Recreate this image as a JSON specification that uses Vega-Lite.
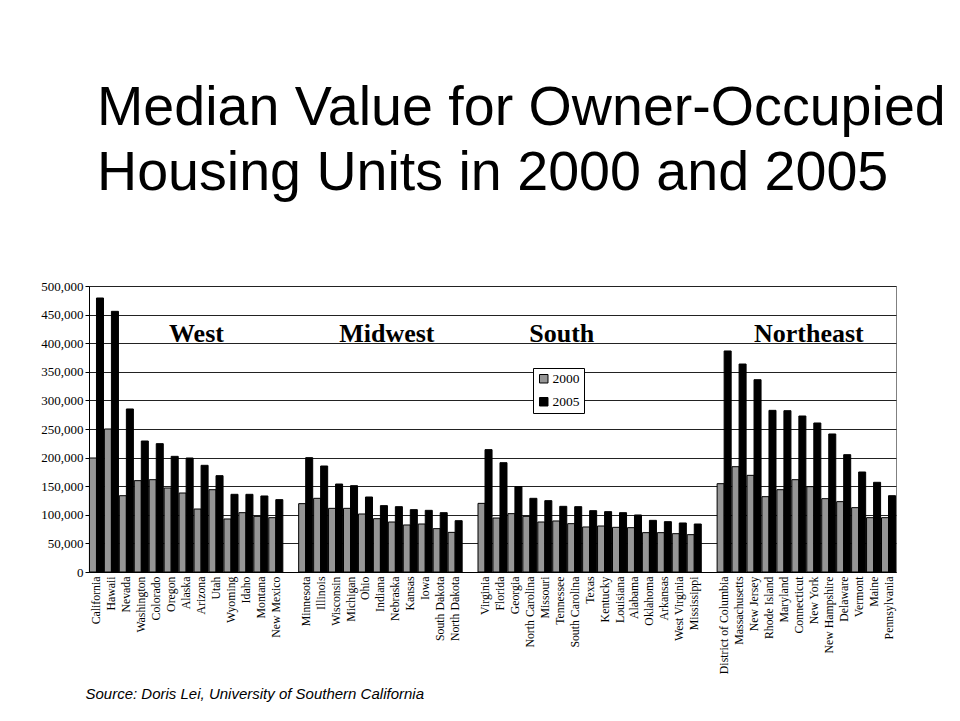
{
  "$schema": "https://vega.github.io/schema/vega-lite/v6.json",
  "width": 807,
  "height": 286,
  "autosize": "none",
  "padding": {"left": 89, "top": 286, "right": 64, "bottom": 149},
  "background": "white",
  "title": {
    "text": ["Median Value for Owner-Occupied", "Housing Units in 2000 and 2005"],
    "anchor": "start",
    "frame": "group",
    "dx": 8,
    "offset": 22,
    "font": "Liberation Sans",
    "fontSize": 55.6,
    "fontWeight": "normal",
    "lineHeight": 65,
    "color": "black",
    "baseline": "bottom"
  },
  "config": {
    "view": {"stroke": "#808080", "strokeWidth": 1},
    "axis": {"labelColor": "black", "domainColor": "black", "tickColor": "black"}
  },
  "data": {"values": [
    {"state": "California", "year": "2000", "value": 199300},
    {"state": "California", "year": "2005", "value": 479000},
    {"state": "Hawaii", "year": "2000", "value": 250000},
    {"state": "Hawaii", "year": "2005", "value": 455700},
    {"state": "Nevada", "year": "2000", "value": 133400},
    {"state": "Nevada", "year": "2005", "value": 285000},
    {"state": "Washington", "year": "2000", "value": 159700},
    {"state": "Washington", "year": "2005", "value": 229000},
    {"state": "Colorado", "year": "2000", "value": 161400},
    {"state": "Colorado", "year": "2005", "value": 224400},
    {"state": "Oregon", "year": "2000", "value": 146900},
    {"state": "Oregon", "year": "2005", "value": 202200},
    {"state": "Alaska", "year": "2000", "value": 138100},
    {"state": "Alaska", "year": "2005", "value": 199300},
    {"state": "Arizona", "year": "2000", "value": 110100},
    {"state": "Arizona", "year": "2005", "value": 186500},
    {"state": "Utah", "year": "2000", "value": 143900},
    {"state": "Utah", "year": "2005", "value": 168400},
    {"state": "Wyoming", "year": "2000", "value": 92700},
    {"state": "Wyoming", "year": "2005", "value": 135800},
    {"state": "Idaho", "year": "2000", "value": 103700},
    {"state": "Idaho", "year": "2005", "value": 135800},
    {"state": "Montana", "year": "2000", "value": 97300},
    {"state": "Montana", "year": "2005", "value": 132900},
    {"state": "New Mexico", "year": "2000", "value": 95000},
    {"state": "New Mexico", "year": "2005", "value": 126500},
    {"state": "Minnesota", "year": "2000", "value": 119500},
    {"state": "Minnesota", "year": "2005", "value": 199900},
    {"state": "Illinois", "year": "2000", "value": 128800},
    {"state": "Illinois", "year": "2005", "value": 185300},
    {"state": "Wisconsin", "year": "2000", "value": 111300},
    {"state": "Wisconsin", "year": "2005", "value": 153800},
    {"state": "Michigan", "year": "2000", "value": 111300},
    {"state": "Michigan", "year": "2005", "value": 150900},
    {"state": "Ohio", "year": "2000", "value": 101400},
    {"state": "Ohio", "year": "2005", "value": 131100},
    {"state": "Indiana", "year": "2000", "value": 93200},
    {"state": "Indiana", "year": "2005", "value": 116000},
    {"state": "Nebraska", "year": "2000", "value": 87400},
    {"state": "Nebraska", "year": "2005", "value": 114200},
    {"state": "Kansas", "year": "2000", "value": 82200},
    {"state": "Kansas", "year": "2005", "value": 109000},
    {"state": "Iowa", "year": "2000", "value": 83900},
    {"state": "Iowa", "year": "2005", "value": 107800},
    {"state": "South Dakota", "year": "2000", "value": 75800},
    {"state": "South Dakota", "year": "2005", "value": 103700},
    {"state": "North Dakota", "year": "2000", "value": 69300},
    {"state": "North Dakota", "year": "2005", "value": 89700},
    {"state": "Virginia", "year": "2000", "value": 120000},
    {"state": "Virginia", "year": "2005", "value": 213900},
    {"state": "Florida", "year": "2000", "value": 94400},
    {"state": "Florida", "year": "2005", "value": 191100},
    {"state": "Georgia", "year": "2000", "value": 102000},
    {"state": "Georgia", "year": "2005", "value": 149200},
    {"state": "North Carolina", "year": "2000", "value": 97300},
    {"state": "North Carolina", "year": "2005", "value": 128800},
    {"state": "Missouri", "year": "2000", "value": 87400},
    {"state": "Missouri", "year": "2005", "value": 124700},
    {"state": "Tennessee", "year": "2000", "value": 89200},
    {"state": "Tennessee", "year": "2005", "value": 114800},
    {"state": "South Carolina", "year": "2000", "value": 84500},
    {"state": "South Carolina", "year": "2005", "value": 114200},
    {"state": "Texas", "year": "2000", "value": 78700},
    {"state": "Texas", "year": "2005", "value": 107200},
    {"state": "Kentucky", "year": "2000", "value": 80400},
    {"state": "Kentucky", "year": "2005", "value": 105500},
    {"state": "Louisiana", "year": "2000", "value": 78100},
    {"state": "Louisiana", "year": "2005", "value": 103700},
    {"state": "Alabama", "year": "2000", "value": 77500},
    {"state": "Alabama", "year": "2005", "value": 99700},
    {"state": "Oklahoma", "year": "2000", "value": 68800},
    {"state": "Oklahoma", "year": "2005", "value": 90300},
    {"state": "Arkansas", "year": "2000", "value": 68800},
    {"state": "Arkansas", "year": "2005", "value": 88000},
    {"state": "West Virginia", "year": "2000", "value": 67000},
    {"state": "West Virginia", "year": "2005", "value": 85700},
    {"state": "Mississippi", "year": "2000", "value": 65300},
    {"state": "Mississippi", "year": "2005", "value": 83900},
    {"state": "District of Columbia", "year": "2000", "value": 154400},
    {"state": "District of Columbia", "year": "2005", "value": 386400},
    {"state": "Massachusetts", "year": "2000", "value": 184100},
    {"state": "Massachusetts", "year": "2005", "value": 363600},
    {"state": "New Jersey", "year": "2000", "value": 169000},
    {"state": "New Jersey", "year": "2005", "value": 336200},
    {"state": "Rhode Island", "year": "2000", "value": 131700},
    {"state": "Rhode Island", "year": "2005", "value": 282600},
    {"state": "Maryland", "year": "2000", "value": 143900},
    {"state": "Maryland", "year": "2005", "value": 282000},
    {"state": "Connecticut", "year": "2000", "value": 161400},
    {"state": "Connecticut", "year": "2005", "value": 272700},
    {"state": "New York", "year": "2000", "value": 149200},
    {"state": "New York", "year": "2005", "value": 260500},
    {"state": "New Hampshire", "year": "2000", "value": 128200},
    {"state": "New Hampshire", "year": "2005", "value": 241300},
    {"state": "Delaware", "year": "2000", "value": 123000},
    {"state": "Delaware", "year": "2005", "value": 205100},
    {"state": "Vermont", "year": "2000", "value": 112500},
    {"state": "Vermont", "year": "2005", "value": 174800},
    {"state": "Maine", "year": "2000", "value": 95000},
    {"state": "Maine", "year": "2005", "value": 156800},
    {"state": "Pennsylvania", "year": "2000", "value": 95000},
    {"state": "Pennsylvania", "year": "2005", "value": 133400}
  ]},
  "encoding": {
    "x": {
      "field": "state",
      "type": "nominal",
      "scale": {
        "domain": ["California", "Hawaii", "Nevada", "Washington", "Colorado", "Oregon", "Alaska", "Arizona", "Utah", "Wyoming", "Idaho", "Montana", "New Mexico", " ",
          "Minnesota", "Illinois", "Wisconsin", "Michigan", "Ohio", "Indiana", "Nebraska", "Kansas", "Iowa", "South Dakota", "North Dakota", "  ",
          "Virginia", "Florida", "Georgia", "North Carolina", "Missouri", "Tennessee", "South Carolina", "Texas", "Kentucky", "Louisiana", "Alabama", "Oklahoma", "Arkansas", "West Virginia", "Mississippi", "   ",
          "District of Columbia", "Massachusetts", "New Jersey", "Rhode Island", "Maryland", "Connecticut", "New York", "New Hampshire", "Delaware", "Vermont", "Maine", "Pennsylvania"],
        "paddingInner": 0.06,
        "paddingOuter": 0.03
      },
      "axis": {
        "title": "Source: Doris Lei, University of Southern California",
        "titleFont": "Liberation Sans",
        "titleFontStyle": "italic",
        "titleFontWeight": "normal",
        "titleFontSize": 15,
        "titleColor": "black",
        "titleAnchor": "start",
        "titleAlign": "left",
        "titleBaseline": "alphabetic",
        "titleX": -4,
        "titleY": 126,
        "labelAngle": -90,
        "labelFont": "Liberation Serif",
        "labelFontSize": 11.8,
        "labelPadding": 4,
        "ticks": false,
        "domainColor": "black",
        "labelOverlap": false
      }
    },
    "y": {
      "field": "value",
      "type": "quantitative",
      "scale": {"domain": [0, 500000], "nice": false},
      "axis": {
        "title": null,
        "values": [0, 50000, 100000, 150000, 200000, 250000, 300000, 350000, 400000, 450000, 500000],
        "format": ",d",
        "labelFont": "Liberation Serif",
        "labelFontSize": 13,
        "labelPadding": 2,
        "tickSize": 4,
        "grid": true,
        "gridColor": "#222222",
        "gridWidth": 1,
        "domainColor": "black"
      }
    }
  },
  "layer": [
    {
      "mark": {"type": "bar", "stroke": "black", "strokeWidth": 1},
      "encoding": {
        "xOffset": {"field": "year", "type": "nominal", "scale": {"paddingInner": 0, "paddingOuter": 0}},
        "color": {
          "field": "year",
          "type": "nominal",
          "scale": {"domain": ["2000", "2005"], "range": ["#969696", "#000000"]},
          "legend": {
            "orient": "none",
            "legendX": 444,
            "legendY": 82,
            "title": null,
            "symbolType": "square",
            "symbolSize": 72,
            "symbolStrokeColor": "black",
            "symbolStrokeWidth": 1,
            "labelFont": "Liberation Serif",
            "labelFontSize": 13.5,
            "labelColor": "black",
            "labelOffset": 2,
            "rowPadding": 8,
            "padding": 4,
            "strokeColor": "black",
            "fillColor": "white"
          }
        }
      }
    },
    {
      "data": {"values": [{"label": "West", "state": "Arizona", "value": 402600}]},
      "mark": {"type": "text", "font": "Liberation Serif", "fontWeight": "bold", "fontSize": 26, "align": "center", "baseline": "alphabetic", "color": "black", "dx": -4.6},
      "encoding": {"text": {"field": "label"}}
    },
    {
      "data": {"values": [{"label": "Midwest", "state": "Indiana", "value": 402600}]},
      "mark": {"type": "text", "font": "Liberation Serif", "fontWeight": "bold", "fontSize": 26, "align": "center", "baseline": "alphabetic", "color": "black", "dx": 6.4},
      "encoding": {"text": {"field": "label"}}
    },
    {
      "data": {"values": [{"label": "South", "state": "Tennessee", "value": 402600}]},
      "mark": {"type": "text", "font": "Liberation Serif", "fontWeight": "bold", "fontSize": 26, "align": "center", "baseline": "alphabetic", "color": "black", "dx": 2},
      "encoding": {"text": {"field": "label"}}
    },
    {
      "data": {"values": [{"label": "Northeast", "state": "Connecticut", "value": 402600}]},
      "mark": {"type": "text", "font": "Liberation Serif", "fontWeight": "bold", "fontSize": 26, "align": "center", "baseline": "alphabetic", "color": "black", "dx": 10},
      "encoding": {"text": {"field": "label"}}
    }
  ]
}
